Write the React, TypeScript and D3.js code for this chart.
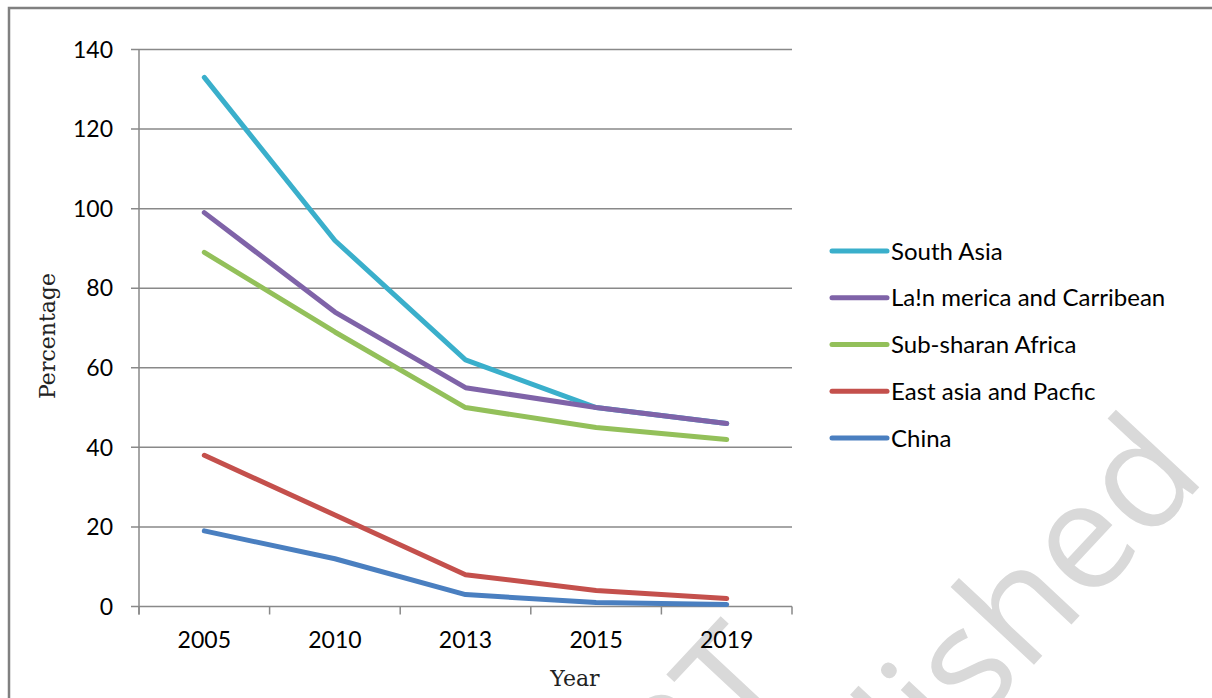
import React from "react";
import * as d3 from "d3";

const years = ["2005", "2010", "2013", "2015", "2019"];
const seriesNames = [
  "South Asia",
  "La!n merica and Carribean",
  "Sub-sharan Africa",
  "East asia and Pacfic",
  "China",
];
const southAsia = [133, 92, 62, 50, 46];
const latinAmerica = [99, 74, 55, 50, 46];
const subSaharan = [89, 69, 50, 45, 42];
const eastAsia = [38, 23, 8, 4, 2];
const china = [19, 12, 3, 1, 0.5];
const seriesColors = ["#3aafcb", "#7f63a8", "#93c05a", "#c4504c", "#4a7fc0"];
const yTicks = [0, 20, 40, 60, 80, 100, 120, 140];

const W = 1212;
const H = 698;
const left = 139;
const right = 792;
const top = 49.5;
const bottom = 606.5;

export default function App() {
  const all = [southAsia, latinAmerica, subSaharan, eastAsia, china];
  const x = d3.scaleBand<string>().domain(years).range([left, right]);
  const y = d3.scaleLinear().domain([0, 140]).range([bottom, top]);
  const line = d3
    .line<number>()
    .x((_, i) => (x(years[i]) as number) + x.bandwidth() / 2)
    .y((d) => y(d));
  const tickFont = "Lato, 'Open Sans', sans-serif";
  const grid = "#898989";
  const xBounds = years.map((yr) => x(yr) as number).concat([right]);
  const legendY = d3.scaleLinear().domain([0, 4]).range([251, 438]);

  return (
    <svg
      width={W}
      height={H}
      style={{ position: "absolute", left: 0, top: 0, background: "#fff" }}
    >
      <rect x={0} y={0} width={W} height={H} fill="#fff" />
      {/* watermark */}
      <g fill="#d9d9d9" fontFamily="'Open Sans', sans-serif" fontWeight={400}>
        <text
          transform="translate(1208,478) rotate(-47)"
          fontSize={150}
          textAnchor="end"
        >
          republished
        </text>
        <text
          transform="translate(800,688) rotate(-47)"
          fontSize={150}
          textAnchor="end"
        >
          NCERT
        </text>
      </g>
      {/* frame */}
      <path d={`M9,${H} V8 H${W}`} fill="none" stroke="#808080" strokeWidth={2.5} />
      {/* gridlines */}
      {yTicks.map((t) => (
        <line
          key={t}
          x1={left - 8}
          x2={right}
          y1={y(t)}
          y2={y(t)}
          stroke={grid}
          strokeWidth={1.5}
        />
      ))}
      <line x1={left} x2={left} y1={top} y2={bottom + 8} stroke={grid} strokeWidth={1.5} />
      {xBounds.map((b, i) => (
        <line key={i} x1={b} x2={b} y1={bottom} y2={bottom + 8} stroke={grid} strokeWidth={1.5} />
      ))}
      {yTicks.map((t) => (
        <text
          key={t}
          x={113}
          y={y(t)}
          dy="0.36em"
          textAnchor="end"
          fontFamily={tickFont}
          fontSize={23}
          fill="#000"
        >
          {t}
        </text>
      ))}
      {years.map((yr) => (
        <text
          key={yr}
          x={(x(yr) as number) + x.bandwidth() / 2}
          y={648}
          textAnchor="middle"
          fontFamily={tickFont}
          fontSize={23}
          fill="#000"
        >
          {yr}
        </text>
      ))}
      <text
        x={575}
        y={686}
        textAnchor="middle"
        fontFamily="'DejaVu Serif', serif"
        fontSize={22}
        fill="#222"
      >
        Year
      </text>
      <text
        transform={`translate(55,336) rotate(-90)`}
        textAnchor="middle"
        fontFamily="'DejaVu Serif', serif"
        fontSize={22}
        fill="#222"
      >
        Percentage
      </text>
      {/* lines */}
      {all.map((s, i) => (
        <path
          key={i}
          d={line(s) as string}
          fill="none"
          stroke={seriesColors[i]}
          strokeWidth={5}
          strokeLinecap="round"
          strokeLinejoin="round"
        />
      ))}
      {/* legend */}
      {seriesNames.map((n, i) => (
        <g key={n}>
          <line
            x1={832}
            x2={887}
            y1={legendY(i)}
            y2={legendY(i)}
            stroke={seriesColors[i]}
            strokeWidth={5}
            strokeLinecap="round"
          />
          <text
            x={891}
            y={legendY(i)}
            dy="0.36em"
            fontFamily={tickFont}
            fontSize={24}
            fill="#000"
          >
            {n}
          </text>
        </g>
      ))}
    </svg>
  );
}
